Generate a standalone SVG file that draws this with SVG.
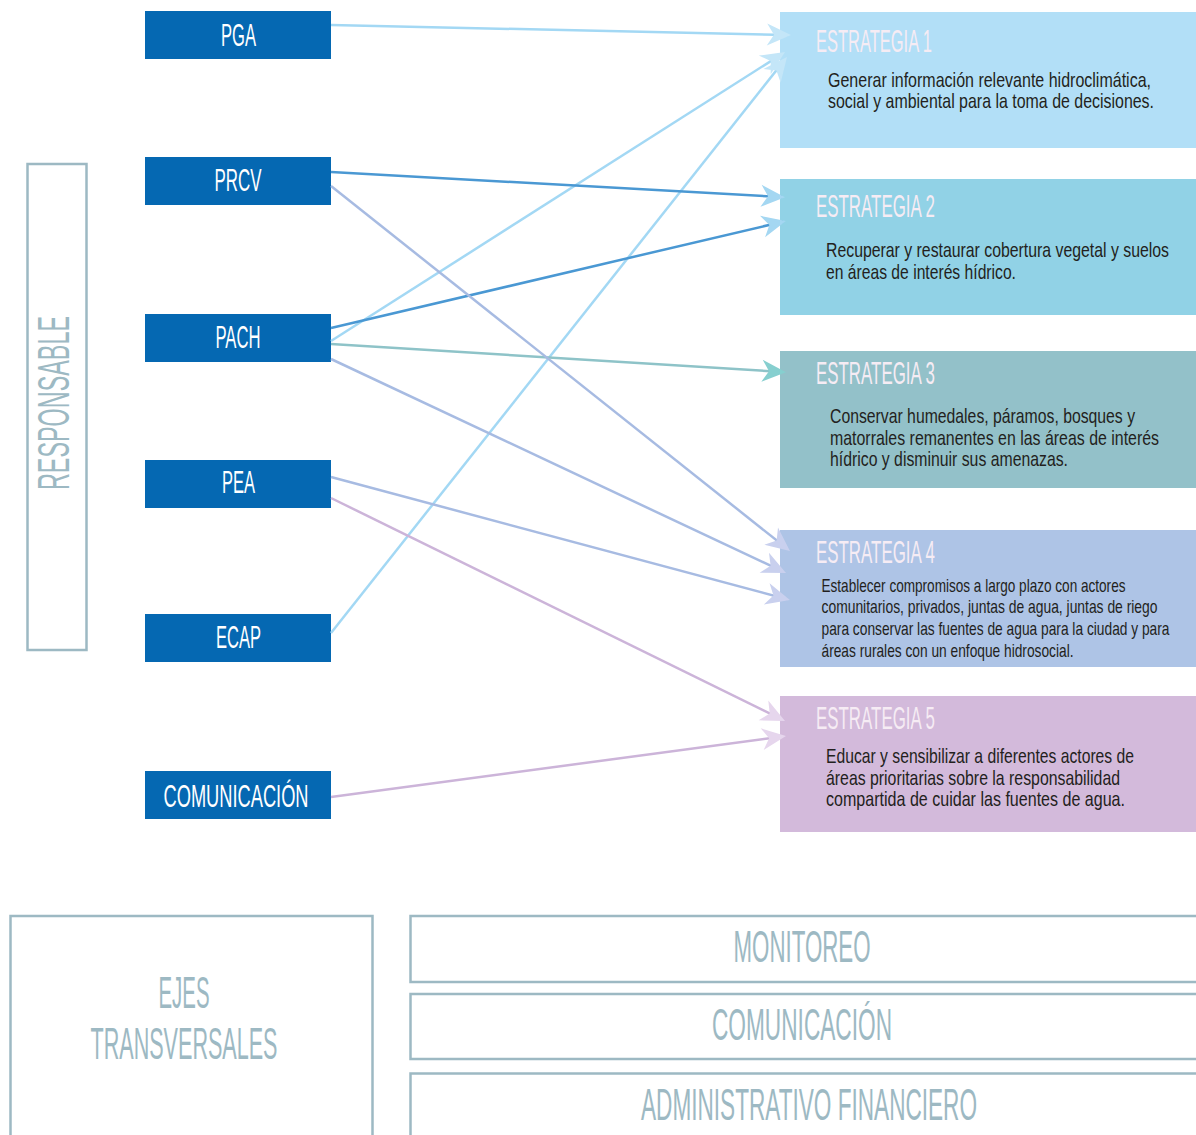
<svg xmlns="http://www.w3.org/2000/svg" width="1196" height="1135" viewBox="0 0 1196 1135">
<style>
text{font-family:"Liberation Sans Narrow","Liberation Sans","DejaVu Sans Condensed",sans-serif;}
.node rect{fill:#0568B2;}
.nl{fill:#FFFFFF;font-size:31px;text-anchor:middle;}
.tt{fill:#F6ECF4;font-size:32px;}
.bd{fill:#231F20;font-size:20px;}
.bd4{fill:#231F20;font-size:18.5px;}
.frame{fill:none;stroke:#9DB9C3;stroke-width:2.5;}
.gt{fill:#9DB9C3;font-size:44px;text-anchor:middle;}
.c{fill:none;stroke-width:2.5;}
</style>
<defs>
<marker id="hE1" viewBox="-22 -12 26 24" refX="0" refY="0" markerWidth="26" markerHeight="24" markerUnits="userSpaceOnUse" orient="auto"><path d="M3,0 L-21,-11 L-14,0 L-21,11 Z" fill="#C4E6F8"/></marker>
<marker id="hE2" viewBox="-22 -12 26 24" refX="0" refY="0" markerWidth="26" markerHeight="24" markerUnits="userSpaceOnUse" orient="auto"><path d="M3,0 L-21,-11 L-14,0 L-21,11 Z" fill="#A4D7F2"/></marker>
<marker id="hE3" viewBox="-22 -12 26 24" refX="0" refY="0" markerWidth="26" markerHeight="24" markerUnits="userSpaceOnUse" orient="auto"><path d="M3,0 L-21,-11 L-14,0 L-21,11 Z" fill="#86CFCF"/></marker>
<marker id="hE4" viewBox="-22 -12 26 24" refX="0" refY="0" markerWidth="26" markerHeight="24" markerUnits="userSpaceOnUse" orient="auto"><path d="M3,0 L-21,-11 L-14,0 L-21,11 Z" fill="#C9D0EE"/></marker>
<marker id="hE5" viewBox="-22 -12 26 24" refX="0" refY="0" markerWidth="26" markerHeight="24" markerUnits="userSpaceOnUse" orient="auto"><path d="M3,0 L-21,-11 L-14,0 L-21,11 Z" fill="#E6D6ED"/></marker>
</defs>
<rect width="1196" height="1135" fill="#FFFFFF"/>

<g id="responsable">
<rect class="frame" x="27.5" y="164" width="59" height="486"/>
<text class="gt" transform="translate(69,403) rotate(-90) scale(0.7,1)" font-size="42" textLength="248.6" lengthAdjust="spacingAndGlyphs">RESPONSABLE</text>
</g>

<g id="estrategia1">
<rect x="780" y="12" width="416" height="136" fill="#B2DFF7"/>
<text class="tt" transform="translate(816,52) scale(0.6,1)" textLength="193.3" lengthAdjust="spacingAndGlyphs">ESTRATEGIA 1</text>
<text class="bd" transform="translate(828,87) scale(0.75,1)" textLength="430.7" lengthAdjust="spacingAndGlyphs">Generar información relevante hidroclimática,</text>
<text class="bd" transform="translate(828,107.5) scale(0.75,1)" textLength="434.7" lengthAdjust="spacingAndGlyphs">social y ambiental para la toma de decisiones.</text>
</g>
<g id="estrategia2">
<rect x="780" y="179" width="416" height="136" fill="#91D2E6"/>
<text class="tt" transform="translate(816,217) scale(0.6,1)" textLength="198.3" lengthAdjust="spacingAndGlyphs">ESTRATEGIA 2</text>
<text class="bd" transform="translate(826,257) scale(0.75,1)" textLength="457.3" lengthAdjust="spacingAndGlyphs">Recuperar y restaurar cobertura vegetal y suelos</text>
<text class="bd" transform="translate(826,278.5) scale(0.75,1)" textLength="253.3" lengthAdjust="spacingAndGlyphs">en áreas de interés hídrico.</text>
</g>
<g id="estrategia3">
<rect x="780" y="351" width="416" height="137" fill="#93C1C9"/>
<text class="tt" transform="translate(816,384) scale(0.6,1)" textLength="198.3" lengthAdjust="spacingAndGlyphs">ESTRATEGIA 3</text>
<text class="bd" transform="translate(830,423) scale(0.75,1)" textLength="406.7" lengthAdjust="spacingAndGlyphs">Conservar humedales, páramos, bosques y</text>
<text class="bd" transform="translate(830,444.5) scale(0.75,1)" textLength="438.7" lengthAdjust="spacingAndGlyphs">matorrales remanentes en las áreas de interés</text>
<text class="bd" transform="translate(830,466) scale(0.75,1)" textLength="317.3" lengthAdjust="spacingAndGlyphs">hídrico y disminuir sus amenazas.</text>
</g>
<g id="estrategia4">
<rect x="780" y="530" width="416" height="137" fill="#AEC4E6"/>
<text class="tt" transform="translate(816,563) scale(0.6,1)" textLength="198.3" lengthAdjust="spacingAndGlyphs">ESTRATEGIA 4</text>
<text class="bd4" transform="translate(821.5,591.5) scale(0.75,1)" textLength="405.3" lengthAdjust="spacingAndGlyphs">Establecer compromisos a largo plazo con actores</text>
<text class="bd4" transform="translate(821.5,613) scale(0.75,1)" textLength="448" lengthAdjust="spacingAndGlyphs">comunitarios, privados, juntas de agua, juntas de riego</text>
<text class="bd4" transform="translate(821.5,635) scale(0.75,1)" textLength="464" lengthAdjust="spacingAndGlyphs">para conservar las fuentes de agua para la ciudad y para</text>
<text class="bd4" transform="translate(821.5,656.5) scale(0.75,1)" textLength="336" lengthAdjust="spacingAndGlyphs">áreas rurales con un enfoque hidrosocial.</text>
</g>
<g id="estrategia5">
<rect x="780" y="696" width="416" height="136" fill="#D3BADB"/>
<text class="tt" transform="translate(816,729) scale(0.6,1)" textLength="198.3" lengthAdjust="spacingAndGlyphs">ESTRATEGIA 5</text>
<text class="bd" transform="translate(826,763) scale(0.75,1)" textLength="410.7" lengthAdjust="spacingAndGlyphs">Educar y sensibilizar a diferentes actores de</text>
<text class="bd" transform="translate(826,785) scale(0.75,1)" textLength="392" lengthAdjust="spacingAndGlyphs">áreas prioritarias sobre la responsabilidad</text>
<text class="bd" transform="translate(826,806) scale(0.75,1)" textLength="398.7" lengthAdjust="spacingAndGlyphs">compartida de cuidar las fuentes de agua.</text>
</g>

<g id="pga" class="node"><rect x="145" y="11" width="186" height="48"/><text class="nl" transform="translate(238.5,45.5) scale(0.6,1)" textLength="58.3" lengthAdjust="spacingAndGlyphs">PGA</text></g>
<g id="prcv" class="node"><rect x="145" y="157" width="186" height="48"/><text class="nl" transform="translate(238,191) scale(0.6,1)" textLength="78.3" lengthAdjust="spacingAndGlyphs">PRCV</text></g>
<g id="pach" class="node"><rect x="145" y="314" width="186" height="48"/><text class="nl" transform="translate(238,348) scale(0.6,1)" textLength="75" lengthAdjust="spacingAndGlyphs">PACH</text></g>
<g id="pea" class="node"><rect x="145" y="460" width="186" height="48"/><text class="nl" transform="translate(238.5,493) scale(0.6,1)" textLength="55" lengthAdjust="spacingAndGlyphs">PEA</text></g>
<g id="ecap" class="node"><rect x="145" y="614" width="186" height="48"/><text class="nl" transform="translate(238.5,648) scale(0.6,1)" textLength="75" lengthAdjust="spacingAndGlyphs">ECAP</text></g>
<g id="comunicacion" class="node"><rect x="145" y="771" width="186" height="48"/><text class="nl" transform="translate(236,806.5) scale(0.6,1)" textLength="241.7" lengthAdjust="spacingAndGlyphs">COMUNICACIÓN</text></g>

<g id="connectors">
<line class="c" x1="331" y1="25" x2="788" y2="35" stroke="#A3D8F4" marker-end="url(#hE1)"/>
<line class="c" x1="331" y1="341" x2="782.5" y2="53.6" stroke="#A3D8F4" marker-end="url(#hE1)"/>
<line class="c" x1="331" y1="633" x2="785.1" y2="59.4" stroke="#A3D8F4" marker-end="url(#hE1)"/>
<line class="c" x1="331" y1="172" x2="782" y2="197" stroke="#4A98D3" marker-end="url(#hE2)"/>
<line class="c" x1="331" y1="328" x2="783" y2="221.7" stroke="#4A98D3" marker-end="url(#hE2)"/>
<line class="c" x1="331" y1="344" x2="783" y2="372" stroke="#8EC3C8" marker-end="url(#hE3)"/>
<line class="c" x1="331" y1="186" x2="787.6" y2="549.1" stroke="#A7BBE2" marker-end="url(#hE4)"/>
<line class="c" x1="331" y1="359" x2="783.3" y2="571.7" stroke="#A7BBE2" marker-end="url(#hE4)"/>
<line class="c" x1="331" y1="477" x2="787" y2="599.2" stroke="#A7BBE2" marker-end="url(#hE4)"/>
<line class="c" x1="331" y1="498" x2="782.3" y2="719.7" stroke="#CCB4D9" marker-end="url(#hE5)"/>
<line class="c" x1="331" y1="797" x2="783" y2="736.4" stroke="#CCB4D9" marker-end="url(#hE5)"/>
</g>

<g id="ejes-transversales">
<rect class="frame" x="10.5" y="916" width="362" height="240"/>
<text class="gt" transform="translate(184,1008) scale(0.6,1)" textLength="85" lengthAdjust="spacingAndGlyphs">EJES</text>
<text class="gt" transform="translate(184,1059) scale(0.6,1)" textLength="311.7" lengthAdjust="spacingAndGlyphs">TRANSVERSALES</text>
</g>
<g id="monitoreo">
<rect class="frame" x="410.5" y="916" width="800" height="66"/>
<text class="gt" transform="translate(802,962) scale(0.6,1)" textLength="228.3" lengthAdjust="spacingAndGlyphs">MONITOREO</text>
</g>
<g id="comunicacion-eje">
<rect class="frame" x="410.5" y="994" width="800" height="65"/>
<text class="gt" transform="translate(802,1040) scale(0.6,1)" textLength="300" lengthAdjust="spacingAndGlyphs">COMUNICACIÓN</text>
</g>
<g id="administrativo">
<rect class="frame" x="410.5" y="1073.5" width="800" height="100"/>
<text class="gt" transform="translate(809,1120) scale(0.6,1)" textLength="560" lengthAdjust="spacingAndGlyphs">ADMINISTRATIVO FINANCIERO</text>
</g>
</svg>
